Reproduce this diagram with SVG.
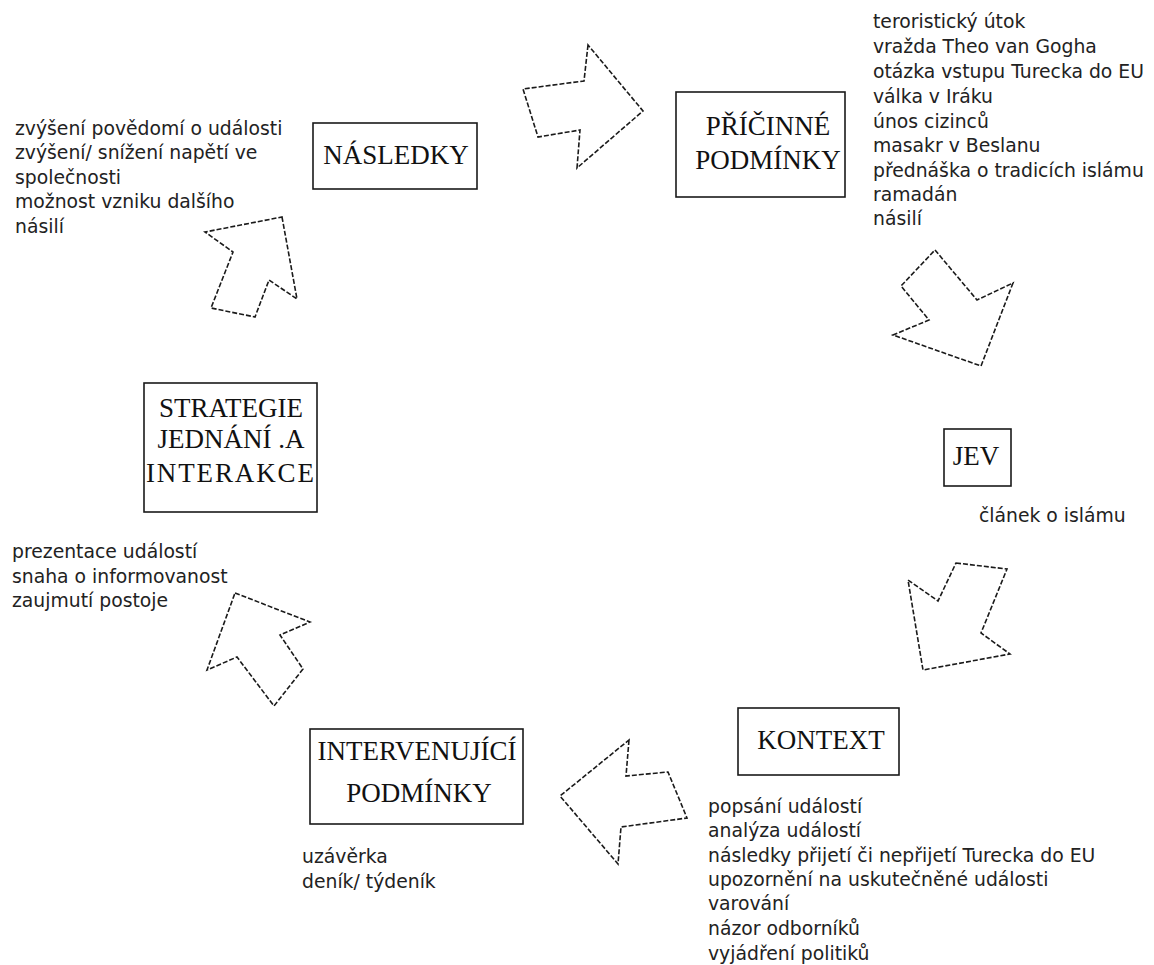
<svg xmlns="http://www.w3.org/2000/svg" width="1154" height="965" viewBox="0 0 1154 965">
<style>
.box{fill:#fff;stroke:#1a1a1a;stroke-width:1.6}
.lbl{font-family:"Liberation Serif","Times New Roman",serif;font-size:27px;fill:#111;text-anchor:middle}
.txt{font-family:"DejaVu Sans","Verdana",sans-serif;font-size:18.8px;fill:#222}
.arr{fill:#fff;stroke:#1a1a1a;stroke-width:1.6;stroke-dasharray:5 2;stroke-linejoin:miter}
</style>
<rect width="1154" height="965" fill="#fff"/>
<g id="connectors">
<polygon class="arr" points="588,45 584,81 523,89 538,137 580,130 577,168 643,111"/>
<polygon class="arr" points="935,250 977,300 1013,283 981,366 893,335 929,320 901,286"/>
<polygon class="arr" points="956,563 1007,569 981,633 1010,654 923,670 908,580 938,601"/>
<polygon class="arr" points="629,740 626,776 668,772 687,818 621,827 618,864 560,796"/>
<polygon class="arr" points="235,593 310,622 280,635 303,669 274,706 237,657 207,670"/>
<polygon class="arr" points="282,217 297,299 269,280 255,317 211,308 233,252 205,232"/>
</g>
<g id="nasledky">
<rect class="box" x="313" y="123" width="164" height="66"/>
<text class="lbl" x="396" y="164">NÁSLEDKY</text>
<g class="txt">
<text x="15" y="135">zvýšení povědomí o události</text>
<text x="15" y="159">zvýšení/ snížení napětí ve</text>
<text x="15" y="184">společnosti</text>
<text x="15" y="208">možnost vzniku dalšího</text>
<text x="15" y="233">násilí</text>
</g>
</g>
<g id="pricinne">
<rect class="box" x="676" y="92" width="169" height="105"/>
<text class="lbl" x="768" y="135">PŘÍČINNÉ</text>
<text class="lbl" x="768" y="169">PODMÍNKY</text>
<g class="txt">
<text x="873" y="28">teroristický útok</text>
<text x="873" y="53">vražda Theo van Gogha</text>
<text x="873" y="78">otázka vstupu Turecka do EU</text>
<text x="873" y="103">válka v Iráku</text>
<text x="873" y="128">únos cizinců</text>
<text x="873" y="152">masakr v Beslanu</text>
<text x="873" y="177">přednáška o tradicích islámu</text>
<text x="873" y="201">ramadán</text>
<text x="873" y="225">násilí</text>
</g>
</g>
<g id="jev">
<rect class="box" x="944" y="429" width="67" height="57"/>
<text class="lbl" x="976" y="465">JEV</text>
<text class="txt" x="979" y="522">článek o islámu</text>
</g>
<g id="kontext">
<rect class="box" x="738" y="708" width="161" height="67"/>
<text class="lbl" x="821" y="749">KONTEXT</text>
<g class="txt">
<text x="708" y="813">popsání událostí</text>
<text x="708" y="837">analýza událostí</text>
<text x="708" y="862">následky přijetí či nepřijetí Turecka do EU</text>
<text x="708" y="886">upozornění na uskutečněné události</text>
<text x="708" y="910">varování</text>
<text x="708" y="935">názor odborníků</text>
<text x="708" y="960">vyjádření politiků</text>
</g>
</g>
<g id="intervenujici">
<rect class="box" x="310" y="729" width="213" height="95"/>
<text class="lbl" x="417" y="760">INTERVENUJÍCÍ</text>
<text class="lbl" x="419" y="802">PODMÍNKY</text>
<g class="txt">
<text x="302" y="863">uzávěrka</text>
<text x="302" y="888">deník/ týdeník</text>
</g>
</g>
<g id="strategie">
<rect class="box" x="144" y="383" width="173" height="129"/>
<text class="lbl" x="231" y="417">STRATEGIE</text>
<text class="lbl" x="231" y="448">JEDNÁNÍ .A</text>
<text class="lbl" x="230" y="482" textLength="168" lengthAdjust="spacing">INTERAKCE</text>
<g class="txt">
<text x="12" y="558">prezentace událostí</text>
<text x="12" y="583">snaha o informovanost</text>
<text x="12" y="607">zaujmutí postoje</text>
</g>
</g>
</svg>
